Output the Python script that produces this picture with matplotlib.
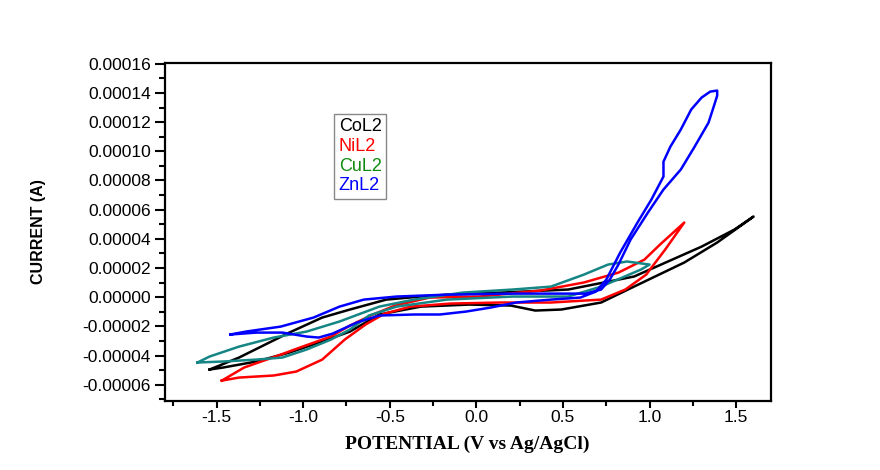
import matplotlib
matplotlib.use("Agg")
import matplotlib.pyplot as plt
from matplotlib.ticker import MultipleLocator, FormatStrFormatter

# cyclic voltammograms, potential in V, current in units of 1e-5 A
col2_v = [-1.54, -1.46, -1.27, -1.08, -0.89, -0.73, -0.56, -0.32, -0.04, 0.20, 0.34, 0.49,
          0.72, 0.91, 1.20, 1.39, 1.60, 1.49, 1.30, 0.91, 0.53, 0.14, -0.17, -0.32, -0.52,
          -0.73, -0.89, -1.08, -1.37, -1.54]
col2_i = [-4.95, -4.81, -4.40, -3.79, -3.03, -2.35, -1.18, -0.64, -0.50, -0.57, -0.91, -0.84,
          -0.36, 0.73, 2.38, 3.75, 5.53, 4.64, 3.47, 1.42, 0.53, 0.32, 0.18, 0.05, -0.16,
          -0.84, -1.39, -2.42, -4.13, -4.95]

nil2_v = [-1.47, -1.37, -1.17, -1.04, -0.89, -0.76, -0.64, -0.53, -0.38, -0.15, 0.14, 0.43,
          0.72, 0.86, 0.98, 1.09, 1.20, 1.06, 0.97, 0.82, 0.62, 0.37, 0.02, -0.27, -0.47,
          -0.61, -0.73, -0.84, -1.02, -1.16, -1.34, -1.47]
nil2_i = [-5.71, -5.50, -5.36, -5.09, -4.27, -2.90, -1.87, -1.12, -0.64, -0.43, -0.36, -0.36,
          -0.16, 0.53, 1.55, 3.27, 5.12, 3.61, 2.58, 1.69, 1.01, 0.46, 0.05, -0.02, -0.57,
          -1.25, -1.94, -2.69, -3.45, -4.06, -4.81, -5.71]

cul2_v = [-1.61, -1.54, -1.37, -1.17, -0.98, -0.79, -0.56, -0.36, -0.08, 0.21, 0.43, 0.62,
          0.76, 0.87, 1.00, 0.95, 0.72, 0.53, 0.21, -0.17, -0.46, -0.62, -0.73, -0.84, -0.98,
          -1.12, -1.27, -1.46, -1.61]
cul2_i = [-4.47, -4.06, -3.38, -2.76, -2.35, -1.66, -0.64, -0.16, 0.32, 0.53, 0.73, 1.55,
          2.24, 2.45, 2.24, 1.90, 0.73, 0.05, 0.05, -0.16, -0.64, -1.25, -2.21, -2.90, -3.58,
          -4.13, -4.27, -4.40, -4.47]

znl2_v = [-1.42, -1.27, -1.12, -0.98, -0.91, -0.83, -0.69, -0.56, -0.36, -0.21, -0.06, 0.08,
          0.23, 0.43, 0.60, 0.69, 0.75, 0.83, 0.93, 1.01, 1.08, 1.08, 1.12, 1.18, 1.24, 1.30,
          1.35, 1.39, 1.39, 1.37, 1.34, 1.26, 1.18, 1.08, 0.99, 0.89, 0.82, 0.77, 0.72, 0.63,
          0.43, 0.21, -0.17, -0.46, -0.65, -0.79, -0.94, -1.13, -1.33, -1.42]
znl2_i = [-2.55, -2.42, -2.42, -2.69, -2.76, -2.49, -1.73, -1.25, -1.18, -1.18, -0.98, -0.71,
          -0.36, -0.16, -0.02, 0.39, 1.21, 3.06, 5.12, 6.69, 8.27, 9.29, 10.32, 11.49, 12.86,
          13.68, 14.09, 14.16, 13.81, 13.06, 11.96, 10.32, 8.75, 7.38, 5.80, 3.95, 2.24, 1.21,
          0.53, 0.25, 0.25, 0.25, 0.18, 0.05, -0.16, -0.64, -1.39, -2.01, -2.35, -2.55]

series = [
    ("CoL2", col2_v, col2_i, "#000000", "#000000"),
    ("NiL2", nil2_v, nil2_i, "#ff0000", "#ff0000"),
    ("CuL2", cul2_v, cul2_i, "#158585", "#108a10"),
    ("ZnL2", znl2_v, znl2_i, "#0000ff", "#0000ff"),
]

fig = plt.figure(figsize=(8.8, 4.7), dpi=100)
ax = fig.add_axes([0.187, 0.147, 0.689, 0.719])

for name, v, i, color, _ in series:
    ax.plot(v, [c * 1e-5 for c in i], color=color, lw=1.8, label=name)

ax.set_xlim(-1.8, 1.7)
ax.set_ylim(-7.1e-5, 1.605e-4)

ax.xaxis.set_major_locator(MultipleLocator(0.5))
ax.xaxis.set_minor_locator(MultipleLocator(0.25))
ax.yaxis.set_major_locator(MultipleLocator(2e-5))
ax.yaxis.set_minor_locator(MultipleLocator(1e-5))
ax.xaxis.set_major_formatter(FormatStrFormatter("%.1f"))
ax.yaxis.set_major_formatter(FormatStrFormatter("%.5f"))

ax.tick_params(which="both", direction="out", width=1.5, top=False, right=False,
               labelsize=12.5)
ax.tick_params(axis="x", which="major", length=5, pad=1.5)
ax.tick_params(axis="x", which="minor", length=3.5)
ax.tick_params(axis="y", which="major", length=7, pad=3)
ax.tick_params(axis="y", which="minor", length=4)
for lab in ax.get_xticklabels() + ax.get_yticklabels():
    lab.set_family("Liberation Sans")
for sp in ax.spines.values():
    sp.set_linewidth(1.6)

ax.set_xlabel("POTENTIAL (V vs Ag/AgCl)", family="Liberation Serif", fontweight="bold",
              fontsize=14, labelpad=8)
ax.set_ylabel("CURRENT (A)", family="Liberation Sans", fontweight="bold", fontsize=11.5,
              labelpad=26)

leg = ax.legend(loc="upper left", bbox_to_anchor=(0.28, 0.85), borderaxespad=0,
                handlelength=0, handletextpad=0, fancybox=False, framealpha=1,
                edgecolor="#888888", borderpad=0.25, labelspacing=0.15,
                prop={"family": "Liberation Sans", "size": 13})
leg.get_frame().set_linewidth(1.0)
for txt, line, s in zip(leg.get_texts(), leg.get_lines(), series):
    txt.set_color(s[4])
    line.set_visible(False)

fig.savefig("out.png", dpi=100)
